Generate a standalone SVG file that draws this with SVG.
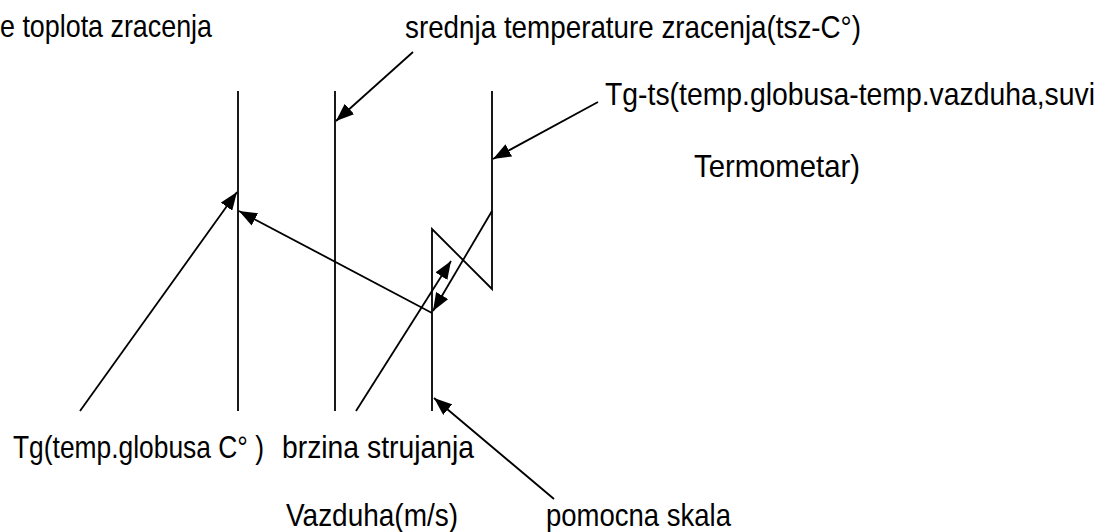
<svg xmlns="http://www.w3.org/2000/svg" width="1106" height="532" viewBox="0 0 1106 532">
<style>
.t{font-family:"Liberation Sans Narrow","Liberation Sans",Arial,sans-serif;font-size:26px;fill:#000}
.l{stroke:#000;stroke-width:1.8;fill:none}
</style>
<defs>
<marker id="ah" viewBox="0 0 18 14" refX="18" refY="7" markerWidth="18" markerHeight="14" markerUnits="userSpaceOnUse" orient="auto">
<path d="M0,0 L18,7 L0,14 z" fill="#000"/>
</marker>
</defs>
<rect width="1106" height="532" fill="#fff"/>
<g id="scales">
<line class="l" x1="238" y1="91" x2="238" y2="411"/>
<line class="l" x1="335" y1="91" x2="335" y2="411"/>
<polyline class="l" points="492,91 492,289 432,229 432,411"/>
</g>
<g id="connectors">
<line class="l" x1="80" y1="411" x2="237" y2="192" marker-end="url(#ah)"/>
<line class="l" x1="432" y1="313" x2="239" y2="211" marker-end="url(#ah)"/>
<line class="l" x1="413" y1="52" x2="336" y2="121" marker-end="url(#ah)"/>
<line class="l" x1="598" y1="102" x2="493" y2="159" marker-end="url(#ah)"/>
<line class="l" x1="356" y1="411" x2="451" y2="261" marker-end="url(#ah)"/>
<line class="l" x1="492" y1="211" x2="433" y2="311" marker-end="url(#ah)"/>
<line class="l" x1="554" y1="499" x2="434" y2="398" marker-end="url(#ah)"/>
</g>
<g id="label-toplota"><text class="t" transform="translate(0,37) scale(1,1.18)" textLength="212" lengthAdjust="spacingAndGlyphs">e toplota zracenja</text></g>
<g id="label-srednja"><text class="t" transform="translate(405,38) scale(1,1.18)" textLength="456" lengthAdjust="spacingAndGlyphs">srednja temperature zracenja(tsz-C°)</text></g>
<g id="label-tgts"><text class="t" transform="translate(605,105) scale(1,1.18)" textLength="490" lengthAdjust="spacingAndGlyphs">Tg-ts(temp.globusa-temp.vazduha,suvi</text>
<text class="t" transform="translate(694,177) scale(1,1.18)" textLength="166" lengthAdjust="spacingAndGlyphs">Termometar)</text></g>
<g id="label-tg"><text class="t" transform="translate(13,458) scale(1,1.18)" textLength="251" lengthAdjust="spacingAndGlyphs">Tg(temp.globusa C° )</text></g>
<g id="label-brzina"><text class="t" transform="translate(282,458) scale(1,1.18)" textLength="192" lengthAdjust="spacingAndGlyphs">brzina strujanja</text>
<text class="t" transform="translate(286,526) scale(1,1.18)" textLength="172" lengthAdjust="spacingAndGlyphs">Vazduha(m/s)</text></g>
<g id="label-pomocna"><text class="t" transform="translate(546,526) scale(1,1.18)" textLength="185" lengthAdjust="spacingAndGlyphs">pomocna skala</text></g>
</svg>
